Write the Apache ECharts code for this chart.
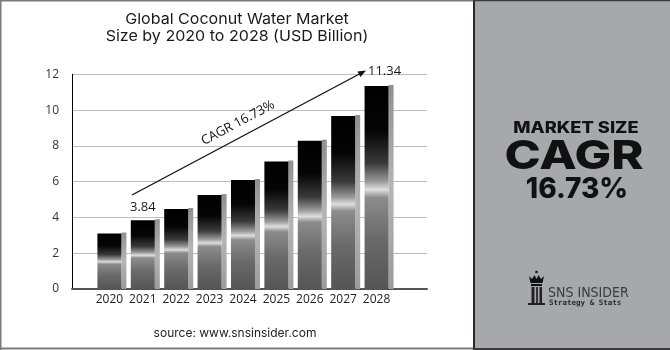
<!DOCTYPE html>
<html><head><meta charset="utf-8">
<script src="https://cdn.jsdelivr.net/npm/echarts/dist/echarts.min.js"></script>
<style>html,body{margin:0;padding:0;background:#fff}#c{width:670px;height:350px}</style>
</head><body><div id="c"></div>
<script>
const years = ['2020','2021','2022','2023','2024','2025','2026','2027','2028'];
const values = [3.1, 3.84, 4.47, 5.25, 6.09, 7.12, 8.29, 9.67, 11.34];
const labelYears = ['2021','2028'];
const yTicks = [0, 2, 4, 6, 8, 10, 12];
const titleLines = ['Global Coconut Water Market', 'Size by 2020 to 2028 (USD Billion)'];
const cagrText = 'CAGR 16.73%';
const panelLines = ['MARKET SIZE', 'CAGR', '16.73%'];
const sourceText = 'source: www.snsinsider.com';

const chart = echarts.init(document.getElementById('c'), null, {renderer: 'canvas'});
const G = echarts.graphic;
const frontFill = new G.LinearGradient(0, 0, 0, 1, [
  {offset: 0, color: '#000'}, {offset: 0.22, color: '#050505'},
  {offset: 0.38, color: '#3a3a3a'}, {offset: 0.47, color: '#9a9a9a'},
  {offset: 0.51, color: '#dedede'}, {offset: 0.55, color: '#8c8c8c'},
  {offset: 0.75, color: '#6a6a6a'}, {offset: 1, color: '#555'}
]);
const sideFill = new G.LinearGradient(0, 0, 0, 1, [
  {offset: 0, color: '#8e8f92'}, {offset: 0.5, color: '#b4b5b8'}, {offset: 1, color: '#9a9b9e'}
]);
const data = values.map((v, i) => [i, v]);

function renderBar(params, api) {
  const i = api.value(0), v = api.value(1);
  const top = api.coord([i, v]);
  const base = api.coord([i, 0]);
  const w = 24, sw = 5;
  const x0 = top[0] - w / 2;
  const h = base[1] - top[1];
  const children = [
    {type: 'rect', shape: {x: x0 + w, y: top[1] - 1, width: sw, height: h + 1}, style: {fill: sideFill}},
    {type: 'rect', shape: {x: x0, y: top[1], width: w, height: h}, style: {fill: frontFill}}
  ];
  if (labelYears.indexOf(years[i]) >= 0) {
    const last = i === years.length - 1;
    children.push({type: 'text', x: top[0] + (last ? 8 : 0), y: top[1] - (last ? 15 : 13),
      style: {text: v.toFixed(2), fill: '#1a1a1a', font: '13px "Open Sans"', align: 'center', verticalAlign: 'middle'}});
  }
  return {type: 'group', children};
}

// arrow
const ax1 = 132, ay1 = 195, ax2 = 366, ay2 = 70.5;
const ang = Math.atan2(ay2 - ay1, ax2 - ax1);
const hl = 8, hw = 3.2;
const bx = ax2 - hl * Math.cos(ang), by = ay2 - hl * Math.sin(ang);
const head = [[ax2, ay2], [bx - hw * Math.sin(ang), by + hw * Math.cos(ang)], [bx + hw * Math.sin(ang), by - hw * Math.cos(ang)]];

chart.setOption({
  animation: false,
  backgroundColor: '#fff',
  grid: {left: 72, right: 243, top: 74.3, bottom: 61},
  xAxis: {
    type: 'value', min: -1.12, max: 9.51,
    axisLine: {show: true, onZero: false, lineStyle: {color: '#555', width: 2}},
    axisTick: {show: false}, splitLine: {show: false},
    axisLabel: {customValues: years.map((y, i) => i), formatter: v => years[Math.round(v)] || '',
      color: '#222', fontSize: 12, fontFamily: 'Open Sans', margin: 5}
  },
  yAxis: {
    type: 'value', min: 0, max: 12, interval: 2,
    axisLine: {show: true, onZero: false, lineStyle: {color: '#000', width: 1}},
    axisTick: {show: false},
    splitLine: {lineStyle: {color: '#bdbdbd', width: 1}},
    axisLabel: {formatter: v => yTicks.indexOf(v) >= 0 ? String(v) : '', color: '#333', fontSize: 12, fontFamily: 'Open Sans', margin: 13}
  },
  series: [{type: 'custom', data: data, renderItem: renderBar, clip: false, z: 5}],
  graphic: [
    {type: 'text', x: 237, y: 19, scaleX: 1.07, style: {text: titleLines[0], fill: '#1a1a1a', font: '15px Inter', align: 'center', verticalAlign: 'middle'}},
    {type: 'text', x: 237, y: 36, scaleX: 1.07, style: {text: titleLines[1], fill: '#1a1a1a', font: '15px Inter', align: 'center', verticalAlign: 'middle'}},
    {type: 'line', shape: {x1: ax1, y1: ay1, x2: bx, y2: by}, style: {stroke: '#111', lineWidth: 1.3}, z: 10},
    {type: 'polygon', shape: {points: head}, style: {fill: '#111'}, z: 10},
    {type: 'text', x: 238, y: 123, rotation: -ang, style: {text: cagrText, fill: '#111', font: '13px "Open Sans"', align: 'center', verticalAlign: 'middle'}, z: 10},
    {type: 'text', x: 235, y: 333, style: {text: sourceText, fill: '#222', font: '12px Inter', align: 'center', verticalAlign: 'middle'}},
    // borders
    {type: 'line', shape: {x1: 0, y1: 0.5, x2: 474, y2: 0.5}, style: {stroke: '#7a7a7a', lineWidth: 2}},
    {type: 'line', shape: {x1: 0.5, y1: 0, x2: 0.5, y2: 350}, style: {stroke: '#7a7a7a', lineWidth: 2}},
    {type: 'line', shape: {x1: 0, y1: 348.5, x2: 474, y2: 348.5}, style: {stroke: '#7a7a7a', lineWidth: 2}},
    // panel
    {type: 'rect', shape: {x: 473, y: 0, width: 197, height: 350}, style: {fill: '#a7a8ab'}},
    {type: 'line', shape: {x1: 474, y1: 0, x2: 474, y2: 350}, style: {stroke: '#2a2a2a', lineWidth: 2}},
    {type: 'line', shape: {x1: 473, y1: 0.5, x2: 670, y2: 0.5}, style: {stroke: '#3a3a3a', lineWidth: 1.5}},
    {type: 'line', shape: {x1: 473, y1: 349, x2: 670, y2: 349}, style: {stroke: '#3a3a3a', lineWidth: 2}},
    {type: 'text', x: 576, y: 128.5, scaleX: 1.18, style: {text: panelLines[0], fill: '#111', font: '800 15.5px Inter', align: 'center', verticalAlign: 'middle'}},
    {type: 'text', x: 574, y: 157, scaleX: 1.22, style: {text: panelLines[1], fill: '#111', font: '800 40px Inter', align: 'center', verticalAlign: 'middle'}},
    {type: 'text', x: 577, y: 190, style: {text: panelLines[2], fill: '#111', font: '800 28px Inter', align: 'center', verticalAlign: 'middle'}},
    // logo
    {type: 'circle', shape: {cx: 536.5, cy: 272, r: 1.3}, style: {fill: '#111'}},
    {type: 'polygon', shape: {points: [[529, 276], [532, 279], [534.5, 275], [536.5, 279], [538.5, 275], [541, 279], [544, 276], [542.5, 283], [530.5, 283]]}, style: {fill: '#111'}},
    {type: 'rect', shape: {x: 531, y: 284, width: 11, height: 2}, style: {fill: '#111'}},
    {type: 'rect', shape: {x: 531.5, y: 287, width: 3, height: 16}, style: {fill: '#222'}},
    {type: 'rect', shape: {x: 536, y: 287, width: 2, height: 16}, style: {fill: '#333'}},
    {type: 'rect', shape: {x: 539.5, y: 287, width: 2.5, height: 16}, style: {fill: '#222'}},
    {type: 'rect', shape: {x: 528, y: 303, width: 17, height: 2}, style: {fill: '#222'}},
    {type: 'text', x: 548, y: 293, style: {text: 'SNS INSIDER', fill: '#3b3b3e', font: '14px "DejaVu Sans Condensed"', align: 'left', verticalAlign: 'middle'}},
    {type: 'text', x: 549, y: 303, style: {text: 'Strategy & Stats', fill: '#2a2a2a', font: 'bold 7.5px "DejaVu Sans Mono"', align: 'left', verticalAlign: 'middle'}}
  ]
});
</script></body></html>
